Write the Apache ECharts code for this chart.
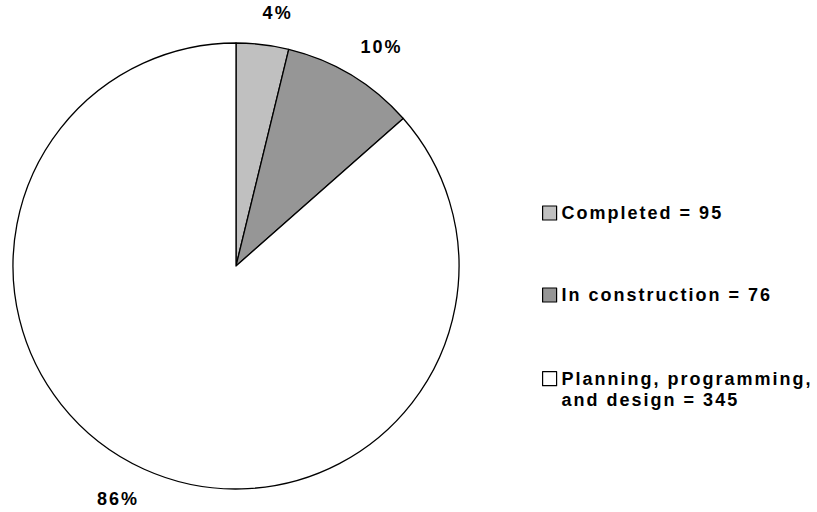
<!DOCTYPE html>
<html><head><meta charset="utf-8">
<script src="https://cdn.jsdelivr.net/npm/echarts@6/dist/echarts.min.js"></script>
<style>
html,body{margin:0;padding:0;background:#fff;}
#chart{width:817px;height:512px;}
#chart text{letter-spacing:2px;}
</style></head><body><div id="chart"></div>
<script>
const categories = ['Completed', 'In construction', 'Planning, programming, and design'];
const legendLines = [['Completed = 95'], ['In construction = 76'], ['Planning, programming,', 'and design = 345']];
const shareValues = [3.8, 9.7, 86.5];
const percentLabels = ['4%', '10%', '86%'];
const sliceColors = ['#C0C0C0', '#969696', '#FFFFFF'];

const FONT = '"Liberation Sans", Arial, sans-serif';
const txt = {fontFamily: FONT, fontWeight: 'bold', fontSize: 18, lineHeight: 21, color: '#000'};
const legendTops = [202.5, 284.5, 347.2];

function legendText(i) {
  const lines = legendLines[i];
  if (lines.length === 1) return '{t|' + lines[0] + '}';
  // pad above so the icon sits beside the first line
  return '{gap| }\n' + lines.map(l => '{t|' + l + '}').join('\n');
}

const chart = echarts.init(document.getElementById('chart'), null, {renderer: 'svg'});
chart.setOption({
  animation: false,
  backgroundColor: '#fff',
  legend: categories.map((c, i) => ({
    data: [c],
    left: 542, top: legendTops[i], orient: 'vertical', padding: 0,
    itemWidth: 14, itemHeight: 14, icon: 'rect', selectedMode: false,
    formatter: () => legendText(i),
    textStyle: Object.assign({}, txt, {rich: {t: Object.assign({}, txt), gap: {fontSize: 18, lineHeight: 21, height: 21}}}),
    itemStyle: {borderColor: '#000', borderWidth: 1.2}
  })),
  series: [{
    type: 'pie', center: [236, 266], radius: 223, startAngle: 90, clockwise: true,
    avoidLabelOverlap: false, silent: true,
    emphasis: {disabled: true},
    itemStyle: {borderColor: '#000', borderWidth: 1.3},
    data: categories.map((c, i) => ({name: c, value: shareValues[i], itemStyle: {color: sliceColors[i]}})),
    label: Object.assign({show: true, position: 'outside', formatter: p => percentLabels[p.dataIndex]}, txt),
    labelLine: {show: true, length: 21, length2: 0, lineStyle: {width: 0, opacity: 0}},
    labelLayout: function (p) {
      const pts = p.labelLinePoints;
      if (!pts) return {};
      const a = pts[0], b = pts[1];
      let ux = b[0] - a[0], uy = b[1] - a[1];
      const len = Math.hypot(ux, uy) || 1; ux /= len; uy /= len;
      // small clockwise shift of the label direction, as in the reference
      const rot = 2.5 * Math.PI / 180;
      const rx = ux * Math.cos(rot) - uy * Math.sin(rot);
      const ry = ux * Math.sin(rot) + uy * Math.cos(rot);
      const cx = 236, cy = 266;
      const dist = Math.hypot(b[0] - cx, b[1] - cy);
      const w = p.labelRect.width, h = p.labelRect.height;
      const ext = Math.abs(rx) * w / 2 + Math.abs(ry) * h / 2;
      return {x: cx + rx * (dist + ext), y: cy + ry * (dist + ext), align: 'center', verticalAlign: 'middle'};
    }
  }]
});
</script></body></html>
